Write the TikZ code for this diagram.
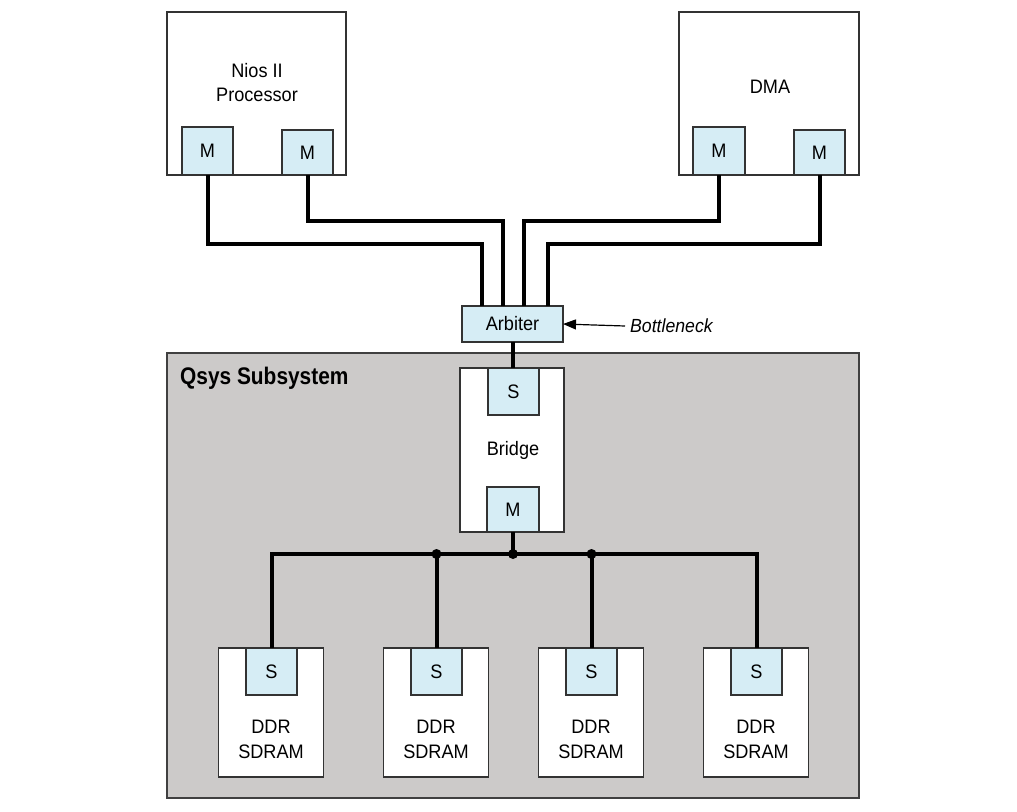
\documentclass[tikz,border=0pt]{standalone}
\usepackage{fontspec}
\setmainfont[FakeStretch=0.93]{Liberation Sans}
\newfontfamily\qsysfont[FakeStretch=0.87]{Liberation Sans}
\usetikzlibrary{arrows.meta}
\definecolor{portblue}{HTML}{D6EDF5}
\definecolor{subgray}{HTML}{CCCAC9}
\definecolor{edge}{HTML}{333333}
\tikzset{
  box/.style={draw=edge, line width=1.3pt, fill=white, inner sep=0pt, outer sep=0pt},
  port/.style={draw=edge, line width=1.3pt, fill=portblue, inner sep=0pt, outer sep=0pt, font=\fontsize{19.5}{22}\selectfont},
  lbl/.style={align=center, font=\fontsize{19.5}{24}\selectfont, inner sep=0pt},
  wire/.style={line width=4pt, black},
  dotnode/.style={circle, fill=black, inner sep=0pt, minimum size=10pt}
}
\begin{document}
\begin{tikzpicture}[x=1pt, y=-1pt]
\useasboundingbox (0,0) rectangle (1017,811);
% Qsys subsystem
\node[draw={rgb,255:red,64;green,64;blue,64}, line width=2pt, fill=subgray, inner sep=0pt, minimum width=692pt, minimum height=445pt] (qsys) at (513,575.5) {};
\node[anchor=west, inner sep=0pt, font=\qsysfont\bfseries\fontsize{24}{28}\selectfont] (qlabel) at (180,378) {Qsys Subsystem};
% Nios
\node[box, minimum width=179pt, minimum height=163pt] (nios) at (256.5,93.5) {};
\node[lbl] (niostxt) at (257,83) {Nios II\\Processor};
\node[port, minimum width=51pt, minimum height=48pt] (nM1) at (207.5,151) {M};
\node[port, minimum width=51pt, minimum height=45pt] (nM2) at (307.5,152.5) {M};
% DMA
\node[box, minimum width=180pt, minimum height=163pt] (dma) at (769,93.5) {};
\node[lbl] (dmatxt) at (770,87) {DMA};
\node[port, minimum width=52pt, minimum height=48pt] (dM1) at (719,151) {M};
\node[port, minimum width=51pt, minimum height=45pt] (dM2) at (819.5,152.5) {M};
% Arbiter
\node[port, minimum width=101pt, minimum height=36pt] (arb) at (512.5,324) {Arbiter};
\node[anchor=west, inner sep=0pt, font=\itshape\fontsize{19}{22}\selectfont] (bn) at (630,326) {Bottleneck};
\draw[line width=1.2pt, -{Triangle[length=13pt,width=10pt]}] ([xshift=-5pt]bn.west) -- (arb.east);
% Wires to arbiter
\draw[wire] (nM1.south) -- ++(0,69) -| ([xshift=-30.5pt]arb.north);
\draw[wire] (nM2.south) -- ++(0,46) -| ([xshift=-9.5pt]arb.north);
\draw[wire] (dM1.south) -- ++(0,46) -| ([xshift=11.5pt]arb.north);
\draw[wire] (dM2.south) -- ++(0,69) -| ([xshift=35.5pt]arb.north);
% Bridge
\node[box, minimum width=104pt, minimum height=164pt] (bridge) at (512,450) {};
\node[lbl] (bridgetxt) at (513,450) {Bridge};
\node[port, minimum width=51pt, minimum height=47pt] (bS) at (513.5,391.5) {S};
\node[port, minimum width=52pt, minimum height=45pt] (bM) at (513,509.5) {M};
\draw[wire] (arb.south) -- (arb.south |- bS.north);
% DDR SDRAMs
\foreach \i/\x in {1/271,2/436,3/591,4/756}{
  \node[box, minimum width=105pt, minimum height=129pt] (ddr\i) at (\x,712.5) {};
  \node[lbl, font=\fontsize{19.5}{25}\selectfont] (ddrtxt\i) at (\x,739) {DDR\\SDRAM};
  \node[port, minimum width=51pt, minimum height=47pt] (s\i) at (\x+0.5,671.5) {S};
}
% Bus
\coordinate (bus) at ([yshift=-22pt]bM.south);
\draw[wire] (bM.south) -- (bus);
\draw[wire] (bus) -| (s1.north);
\draw[wire] (bus) -| (s4.north);
\draw[wire] (bus) -| (s2.north);
\draw[wire] (bus) -| (s3.north);
\node[dotnode] (d1) at (bus) {};
\node[dotnode] (d2) at (bus -| s2.north) {};
\node[dotnode] (d3) at (bus -| s3.north) {};
\end{tikzpicture}
\end{document}
